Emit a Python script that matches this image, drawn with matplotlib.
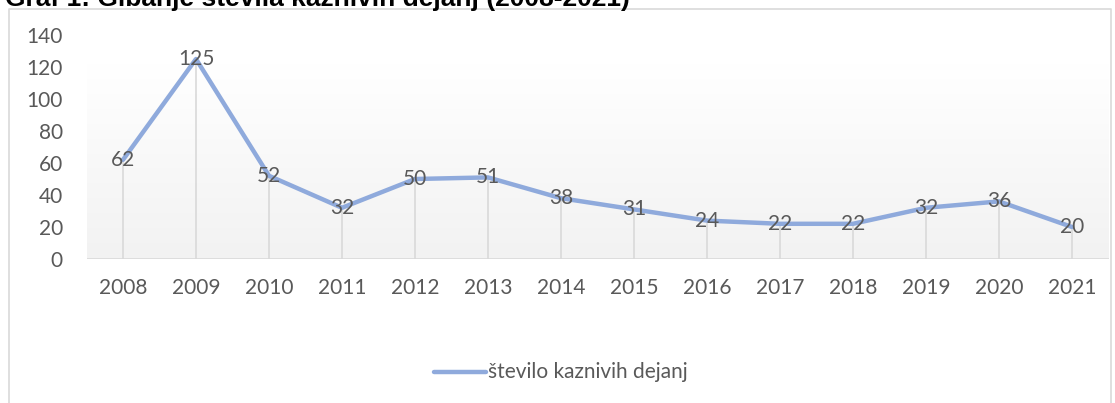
import numpy as np
import matplotlib.pyplot as plt
from matplotlib.lines import Line2D
from matplotlib.colors import LinearSegmentedColormap

years = ['2008', '2009', '2010', '2011', '2012', '2013', '2014',
         '2015', '2016', '2017', '2018', '2019', '2020', '2021']
cases = [62, 125, 52, 32, 50, 51, 38, 31, 24, 22, 22, 32, 36, 20]

plt.rcParams['font.family'] = ['Lato', 'DejaVu Sans']
txt = '#595959'
line_col = '#8faadc'

W, H = 1115, 403
fig = plt.figure(figsize=(W / 100, H / 100), dpi=100)

# chart frame
frame = fig.add_axes([0, 0, 1, 1], zorder=-5)
frame.set_xlim(0, W)
frame.set_ylim(H, 0)
frame.axis('off')
frame.plot([9, 9, 1111, 1111], [404, 9, 9, 404], color='#d9d9d9', lw=1.2)

# title (cut off at the top edge, as in the source)
fig.text(5 / W, 1 - 6 / H, 'Graf 1: Gibanje števila kaznivih dejanj (2008-2021)',
         family='Liberation Sans', weight='bold', fontsize=19, color='black',
         ha='left', va='baseline')

# plot area: x from 86.5 to 1108.5 px, y from 35 (140) to 259 (0)
left, right, top, bottom = 86.5, 1108.5, 35, 259
ax = fig.add_axes([left / W, 1 - bottom / H, (right - left) / W, (bottom - top) / H])
x = np.arange(len(years))
ax.set_xlim(-0.5, len(years) - 0.5)
ax.set_ylim(0, 140)

# gradient background
grad = np.linspace(1, 0, 100).reshape(-1, 1)
ax.imshow(grad, cmap=LinearSegmentedColormap.from_list('g', ['#f2f2f2', '#ffffff']),
          extent=(-0.5, len(years) - 0.5, 0, 122), aspect='auto', zorder=0)

for s in ax.spines.values():
    s.set_visible(False)
ax.axhline(0, color='#d9d9d9', lw=1.2, zorder=1)
ax.vlines(x, 0, cases, color='#d9d9d9', lw=1.2, zorder=1)
ax.plot(x, cases, color=line_col, lw=3.2, solid_capstyle='round', zorder=2)

for xi, v in zip(x, cases):
    ax.text(xi, v, str(v), ha='center', va='center', fontsize=15, color=txt, zorder=3)

ax.set_xticks(x)
ax.set_xticklabels(years)
ax.set_yticks(range(0, 141, 20))
ax.tick_params(length=0, labelsize=15, labelcolor=txt)
ax.tick_params(axis='x', pad=14)
ax.tick_params(axis='y', pad=17)
ax.set_facecolor('none')

# legend
fig.text(488 / W, 1 - 372 / H, 'število kaznivih dejanj', fontsize=15, color=txt,
         ha='left', va='center')
frame.add_line(Line2D([434, 486], [372, 372], color=line_col, lw=3.2, solid_capstyle='round'))

fig.savefig('out.png', dpi=100)
